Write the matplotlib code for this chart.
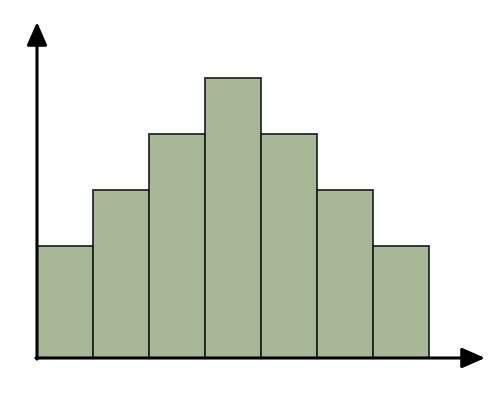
import matplotlib
matplotlib.use("Agg")
import matplotlib.pyplot as plt

# bar heights in units (each bar is one unit wide)
positions = [0, 1, 2, 3, 4, 5, 6]
heights = [2, 3, 4, 5, 4, 3, 2]

unit = 56.0  # pixels per unit
x0, y0 = 37, 359  # origin in pixels (from top-left)


def main():
    fig = plt.figure(figsize=(5, 4.02), dpi=100)
    ax = fig.add_axes([0, 0, 1, 1])
    ax.set_xlim(-x0 / unit, (500 - x0) / unit)
    ax.set_ylim(-(402 - y0) / unit, y0 / unit)
    ax.axis('off')

    ax.bar(positions, heights, width=1, align='edge',
           color='#a6b896', edgecolor='#1a1a1a', linewidth=1.2)

    arrow = dict(arrowstyle='-|>,head_length=0.5,head_width=0.22',
                 color='black', lw=2.2, mutation_scale=28,
                 shrinkA=0, shrinkB=0)
    ax.annotate('', xy=(0, (y0 - 23) / unit), xytext=(0, -0.02),
                arrowprops=arrow)
    ax.annotate('', xy=((485 - x0) / unit, 0), xytext=(-0.02, 0),
                arrowprops=arrow)

    fig.savefig('out.png', dpi=100)


if __name__ == "__main__":
    main()
